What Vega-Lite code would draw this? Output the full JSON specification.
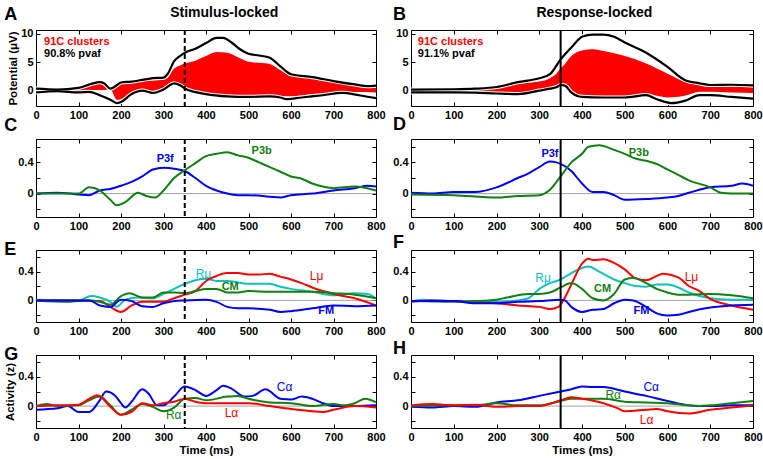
{
"$schema":"https://vega.github.io/schema/vega-lite/v6.json",
"background":"white",
"padding":{"left":3,"top":5,"right":5,"bottom":5},
"config":{
 "font":"Liberation Sans",
 "view":{"stroke":"black","strokeWidth":1},
 "axis":{"domain":false,"grid":false,"tickColor":"black","tickSize":-4,"tickWidth":1,"labelPadding":7,"labelFont":"Liberation Sans","labelFontSize":11,"labelFontWeight":"bold","labelColor":"black","titleFont":"Liberation Sans","titleFontSize":11.5,"titleFontWeight":"bold","titleColor":"black","labelFlush":false,"labelOverlap":false,"titlePadding":2},
 "line":{"strokeWidth":2,"interpolate":"monotone"},
 "text":{"font":"Liberation Sans"}
},
"datasets":{
"fill":[
{"p":"A","t":0,"lo":-0.15,"hi":0.2},{"p":"A","t":50,"lo":0.0,"hi":0.1},{"p":"A","t":100,"lo":-0.15,"hi":0.35},{"p":"A","t":130,"lo":0.1,"hi":1.0},{"p":"A","t":150,"lo":0.1,"hi":1.35},{"p":"A","t":160,"lo":0.1,"hi":1.15},{"p":"A","t":175,"lo":0.2,"hi":0.25},{"p":"A","t":190,"lo":-1.6,"hi":0.8},{"p":"A","t":200,"lo":-1.5,"hi":1.3},{"p":"A","t":225,"lo":-0.4,"hi":1.4},{"p":"A","t":250,"lo":0.15,"hi":1.6},{"p":"A","t":275,"lo":-0.25,"hi":1.8},{"p":"A","t":300,"lo":0.35,"hi":1.95},{"p":"A","t":310,"lo":0.7,"hi":2.3},{"p":"A","t":325,"lo":1.45,"hi":3.9},{"p":"A","t":340,"lo":1.1,"hi":4.5},{"p":"A","t":350,"lo":0.6,"hi":4.8},{"p":"A","t":375,"lo":0.05,"hi":5.3},{"p":"A","t":400,"lo":-0.45,"hi":6.1},{"p":"A","t":425,"lo":-0.7,"hi":6.8},{"p":"A","t":450,"lo":-0.85,"hi":6.7},{"p":"A","t":475,"lo":-0.9,"hi":5.9},{"p":"A","t":500,"lo":-0.95,"hi":5.1},{"p":"A","t":550,"lo":-0.85,"hi":4.7},{"p":"A","t":575,"lo":-0.95,"hi":3.6},{"p":"A","t":600,"lo":-1.0,"hi":2.65},{"p":"A","t":650,"lo":-0.6,"hi":2.2},{"p":"A","t":700,"lo":-0.3,"hi":1.45},{"p":"A","t":750,"lo":-0.25,"hi":0.9},{"p":"A","t":800,"lo":-0.3,"hi":0.5},
{"p":"B","t":0,"lo":-0.15,"hi":0.1},{"p":"B","t":100,"lo":-0.15,"hi":0.15},{"p":"B","t":150,"lo":-0.2,"hi":0.25},{"p":"B","t":200,"lo":-0.35,"hi":0.55},{"p":"B","t":250,"lo":-0.4,"hi":1.2},{"p":"B","t":300,"lo":0.1,"hi":1.6},{"p":"B","t":325,"lo":0.45,"hi":2.2},{"p":"B","t":340,"lo":0.75,"hi":3.0},{"p":"B","t":350,"lo":1.15,"hi":3.9},{"p":"B","t":360,"lo":1.0,"hi":4.7},{"p":"B","t":375,"lo":-0.15,"hi":6.1},{"p":"B","t":400,"lo":-0.9,"hi":7.1},{"p":"B","t":425,"lo":-0.95,"hi":7.3},{"p":"B","t":450,"lo":-1.0,"hi":7.0},{"p":"B","t":475,"lo":-1.0,"hi":6.6},{"p":"B","t":500,"lo":-1.0,"hi":6.1},{"p":"B","t":550,"lo":-0.6,"hi":4.8},{"p":"B","t":600,"lo":-1.2,"hi":3.0},{"p":"B","t":640,"lo":-0.9,"hi":1.6},{"p":"B","t":675,"lo":-0.2,"hi":1.0},{"p":"B","t":700,"lo":-0.2,"hi":0.8},{"p":"B","t":750,"lo":-0.3,"hi":0.75},{"p":"B","t":800,"lo":-0.4,"hi":0.6}
],
"env":[
{"p":"A","s":"top","t":0,"v":0.35},{"p":"A","s":"top","t":50,"v":0.2},{"p":"A","s":"top","t":100,"v":0.5},{"p":"A","s":"top","t":130,"v":1.2},{"p":"A","s":"top","t":150,"v":1.5},{"p":"A","s":"top","t":160,"v":1.3},{"p":"A","s":"top","t":175,"v":0.35},{"p":"A","s":"top","t":190,"v":0.95},{"p":"A","s":"top","t":200,"v":1.45},{"p":"A","s":"top","t":225,"v":1.6},{"p":"A","s":"top","t":250,"v":1.9},{"p":"A","s":"top","t":275,"v":2.2},{"p":"A","s":"top","t":300,"v":2.3},{"p":"A","s":"top","t":310,"v":3.0},{"p":"A","s":"top","t":325,"v":5.2},{"p":"A","s":"top","t":340,"v":6.2},{"p":"A","s":"top","t":350,"v":6.7},{"p":"A","s":"top","t":375,"v":7.4},{"p":"A","s":"top","t":400,"v":8.4},{"p":"A","s":"top","t":425,"v":9.3},{"p":"A","s":"top","t":440,"v":9.3},{"p":"A","s":"top","t":460,"v":8.5},{"p":"A","s":"top","t":480,"v":7.3},{"p":"A","s":"top","t":500,"v":6.5},{"p":"A","s":"top","t":525,"v":6.2},{"p":"A","s":"top","t":550,"v":5.8},{"p":"A","s":"top","t":575,"v":4.3},{"p":"A","s":"top","t":600,"v":2.9},{"p":"A","s":"top","t":650,"v":2.4},{"p":"A","s":"top","t":700,"v":1.7},{"p":"A","s":"top","t":750,"v":1.1},{"p":"A","s":"top","t":780,"v":0.8},{"p":"A","s":"top","t":800,"v":0.9},
{"p":"A","s":"bot","t":0,"v":-0.3},{"p":"A","s":"bot","t":50,"v":-0.1},{"p":"A","s":"bot","t":100,"v":-0.3},{"p":"A","s":"bot","t":125,"v":-0.2},{"p":"A","s":"bot","t":150,"v":-0.8},{"p":"A","s":"bot","t":175,"v":-1.6},{"p":"A","s":"bot","t":190,"v":-2.2},{"p":"A","s":"bot","t":200,"v":-2.0},{"p":"A","s":"bot","t":225,"v":-0.6},{"p":"A","s":"bot","t":250,"v":0.0},{"p":"A","s":"bot","t":275,"v":-0.4},{"p":"A","s":"bot","t":300,"v":0.2},{"p":"A","s":"bot","t":325,"v":1.3},{"p":"A","s":"bot","t":340,"v":0.9},{"p":"A","s":"bot","t":350,"v":0.4},{"p":"A","s":"bot","t":400,"v":-0.6},{"p":"A","s":"bot","t":450,"v":-1.0},{"p":"A","s":"bot","t":500,"v":-1.1},{"p":"A","s":"bot","t":550,"v":-1.0},{"p":"A","s":"bot","t":575,"v":-1.2},{"p":"A","s":"bot","t":590,"v":-1.5},{"p":"A","s":"bot","t":625,"v":-1.2},{"p":"A","s":"bot","t":675,"v":-0.8},{"p":"A","s":"bot","t":720,"v":-0.4},{"p":"A","s":"bot","t":760,"v":-0.8},{"p":"A","s":"bot","t":800,"v":-1.3},
{"p":"B","s":"top","t":0,"v":0.2},{"p":"B","s":"top","t":100,"v":0.25},{"p":"B","s":"top","t":150,"v":0.35},{"p":"B","s":"top","t":200,"v":0.65},{"p":"B","s":"top","t":250,"v":1.5},{"p":"B","s":"top","t":300,"v":2.2},{"p":"B","s":"top","t":325,"v":2.9},{"p":"B","s":"top","t":350,"v":5.5},{"p":"B","s":"top","t":375,"v":7.6},{"p":"B","s":"top","t":400,"v":9.5},{"p":"B","s":"top","t":425,"v":9.9},{"p":"B","s":"top","t":450,"v":9.9},{"p":"B","s":"top","t":475,"v":9.5},{"p":"B","s":"top","t":500,"v":8.5},{"p":"B","s":"top","t":550,"v":6.7},{"p":"B","s":"top","t":600,"v":4.2},{"p":"B","s":"top","t":640,"v":1.9},{"p":"B","s":"top","t":675,"v":1.3},{"p":"B","s":"top","t":700,"v":1.0},{"p":"B","s":"top","t":750,"v":1.05},{"p":"B","s":"top","t":800,"v":0.95},
{"p":"B","s":"bot","t":0,"v":-0.3},{"p":"B","s":"bot","t":100,"v":-0.3},{"p":"B","s":"bot","t":150,"v":-0.35},{"p":"B","s":"bot","t":200,"v":-0.5},{"p":"B","s":"bot","t":250,"v":-0.6},{"p":"B","s":"bot","t":300,"v":0.0},{"p":"B","s":"bot","t":325,"v":0.35},{"p":"B","s":"bot","t":340,"v":0.6},{"p":"B","s":"bot","t":350,"v":1.0},{"p":"B","s":"bot","t":360,"v":0.9},{"p":"B","s":"bot","t":375,"v":-0.3},{"p":"B","s":"bot","t":400,"v":-1.1},{"p":"B","s":"bot","t":450,"v":-1.2},{"p":"B","s":"bot","t":500,"v":-1.2},{"p":"B","s":"bot","t":550,"v":-0.8},{"p":"B","s":"bot","t":575,"v":-1.5},{"p":"B","s":"bot","t":610,"v":-2.2},{"p":"B","s":"bot","t":640,"v":-1.8},{"p":"B","s":"bot","t":675,"v":-0.8},{"p":"B","s":"bot","t":700,"v":-0.8},{"p":"B","s":"bot","t":750,"v":-1.1},{"p":"B","s":"bot","t":800,"v":-1.4}
],
"lines":[
{"p":"C","s":"P3f","t":0,"v":0},{"p":"C","s":"P3f","t":50,"v":0.01},{"p":"C","s":"P3f","t":100,"v":-0.01},{"p":"C","s":"P3f","t":125,"v":-0.02},{"p":"C","s":"P3f","t":150,"v":0.04},{"p":"C","s":"P3f","t":175,"v":0.06},{"p":"C","s":"P3f","t":200,"v":0.1},{"p":"C","s":"P3f","t":225,"v":0.15},{"p":"C","s":"P3f","t":250,"v":0.22},{"p":"C","s":"P3f","t":275,"v":0.31},{"p":"C","s":"P3f","t":300,"v":0.33},{"p":"C","s":"P3f","t":325,"v":0.32},{"p":"C","s":"P3f","t":350,"v":0.29},{"p":"C","s":"P3f","t":375,"v":0.2},{"p":"C","s":"P3f","t":400,"v":0.1},{"p":"C","s":"P3f","t":425,"v":0.04},{"p":"C","s":"P3f","t":450,"v":0},{"p":"C","s":"P3f","t":475,"v":-0.02},{"p":"C","s":"P3f","t":500,"v":-0.02},{"p":"C","s":"P3f","t":550,"v":-0.04},{"p":"C","s":"P3f","t":575,"v":-0.05},{"p":"C","s":"P3f","t":600,"v":-0.02},{"p":"C","s":"P3f","t":650,"v":0},{"p":"C","s":"P3f","t":700,"v":0.04},{"p":"C","s":"P3f","t":750,"v":0.07},{"p":"C","s":"P3f","t":780,"v":0.1},{"p":"C","s":"P3f","t":800,"v":0.09},
{"p":"C","s":"P3b","t":0,"v":0},{"p":"C","s":"P3b","t":100,"v":0},{"p":"C","s":"P3b","t":125,"v":0.08},{"p":"C","s":"P3b","t":150,"v":0.04},{"p":"C","s":"P3b","t":175,"v":-0.08},{"p":"C","s":"P3b","t":190,"v":-0.15},{"p":"C","s":"P3b","t":210,"v":-0.11},{"p":"C","s":"P3b","t":240,"v":0.01},{"p":"C","s":"P3b","t":260,"v":-0.03},{"p":"C","s":"P3b","t":280,"v":-0.05},{"p":"C","s":"P3b","t":300,"v":0.04},{"p":"C","s":"P3b","t":325,"v":0.2},{"p":"C","s":"P3b","t":350,"v":0.3},{"p":"C","s":"P3b","t":375,"v":0.39},{"p":"C","s":"P3b","t":400,"v":0.48},{"p":"C","s":"P3b","t":425,"v":0.51},{"p":"C","s":"P3b","t":450,"v":0.53},{"p":"C","s":"P3b","t":475,"v":0.49},{"p":"C","s":"P3b","t":500,"v":0.46},{"p":"C","s":"P3b","t":525,"v":0.4},{"p":"C","s":"P3b","t":550,"v":0.34},{"p":"C","s":"P3b","t":575,"v":0.28},{"p":"C","s":"P3b","t":600,"v":0.22},{"p":"C","s":"P3b","t":625,"v":0.19},{"p":"C","s":"P3b","t":650,"v":0.13},{"p":"C","s":"P3b","t":675,"v":0.09},{"p":"C","s":"P3b","t":700,"v":0.07},{"p":"C","s":"P3b","t":750,"v":0.09},{"p":"C","s":"P3b","t":800,"v":0.04},
{"p":"D","s":"P3f","t":0,"v":0.01},{"p":"D","s":"P3f","t":50,"v":0},{"p":"D","s":"P3f","t":100,"v":0.02},{"p":"D","s":"P3f","t":150,"v":0.02},{"p":"D","s":"P3f","t":200,"v":0.08},{"p":"D","s":"P3f","t":250,"v":0.2},{"p":"D","s":"P3f","t":275,"v":0.26},{"p":"D","s":"P3f","t":300,"v":0.34},{"p":"D","s":"P3f","t":325,"v":0.41},{"p":"D","s":"P3f","t":340,"v":0.4},{"p":"D","s":"P3f","t":350,"v":0.38},{"p":"D","s":"P3f","t":375,"v":0.29},{"p":"D","s":"P3f","t":400,"v":0.13},{"p":"D","s":"P3f","t":425,"v":0.02},{"p":"D","s":"P3f","t":450,"v":0.02},{"p":"D","s":"P3f","t":475,"v":-0.02},{"p":"D","s":"P3f","t":500,"v":-0.08},{"p":"D","s":"P3f","t":550,"v":-0.07},{"p":"D","s":"P3f","t":600,"v":-0.05},{"p":"D","s":"P3f","t":625,"v":-0.03},{"p":"D","s":"P3f","t":650,"v":0.01},{"p":"D","s":"P3f","t":700,"v":0.08},{"p":"D","s":"P3f","t":750,"v":0.1},{"p":"D","s":"P3f","t":775,"v":0.13},{"p":"D","s":"P3f","t":800,"v":0.1},
{"p":"D","s":"P3b","t":0,"v":-0.01},{"p":"D","s":"P3b","t":100,"v":-0.02},{"p":"D","s":"P3b","t":200,"v":-0.05},{"p":"D","s":"P3b","t":250,"v":-0.03},{"p":"D","s":"P3b","t":300,"v":-0.02},{"p":"D","s":"P3b","t":325,"v":0.05},{"p":"D","s":"P3b","t":350,"v":0.22},{"p":"D","s":"P3b","t":375,"v":0.4},{"p":"D","s":"P3b","t":400,"v":0.51},{"p":"D","s":"P3b","t":415,"v":0.6},{"p":"D","s":"P3b","t":440,"v":0.62},{"p":"D","s":"P3b","t":475,"v":0.56},{"p":"D","s":"P3b","t":500,"v":0.51},{"p":"D","s":"P3b","t":525,"v":0.45},{"p":"D","s":"P3b","t":550,"v":0.42},{"p":"D","s":"P3b","t":575,"v":0.38},{"p":"D","s":"P3b","t":600,"v":0.31},{"p":"D","s":"P3b","t":625,"v":0.24},{"p":"D","s":"P3b","t":650,"v":0.17},{"p":"D","s":"P3b","t":700,"v":0.08},{"p":"D","s":"P3b","t":725,"v":0.01},{"p":"D","s":"P3b","t":750,"v":0},{"p":"D","s":"P3b","t":800,"v":0},
{"p":"E","s":"Rμ","t":0,"v":0.01},{"p":"E","s":"Rμ","t":100,"v":0},{"p":"E","s":"Rμ","t":130,"v":0.06},{"p":"E","s":"Rμ","t":150,"v":0.04},{"p":"E","s":"Rμ","t":175,"v":-0.02},{"p":"E","s":"Rμ","t":190,"v":-0.09},{"p":"E","s":"Rμ","t":210,"v":0.01},{"p":"E","s":"Rμ","t":240,"v":0.04},{"p":"E","s":"Rμ","t":275,"v":0.03},{"p":"E","s":"Rμ","t":300,"v":0.09},{"p":"E","s":"Rμ","t":325,"v":0.16},{"p":"E","s":"Rμ","t":350,"v":0.23},{"p":"E","s":"Rμ","t":375,"v":0.28},{"p":"E","s":"Rμ","t":400,"v":0.3},{"p":"E","s":"Rμ","t":425,"v":0.27},{"p":"E","s":"Rμ","t":450,"v":0.27},{"p":"E","s":"Rμ","t":475,"v":0.25},{"p":"E","s":"Rμ","t":500,"v":0.23},{"p":"E","s":"Rμ","t":550,"v":0.23},{"p":"E","s":"Rμ","t":575,"v":0.19},{"p":"E","s":"Rμ","t":600,"v":0.16},{"p":"E","s":"Rμ","t":650,"v":0.12},{"p":"E","s":"Rμ","t":700,"v":0.07},{"p":"E","s":"Rμ","t":750,"v":0.1},{"p":"E","s":"Rμ","t":780,"v":0.09},{"p":"E","s":"Rμ","t":800,"v":0.03},
{"p":"E","s":"Lμ","t":0,"v":0},{"p":"E","s":"Lμ","t":100,"v":0},{"p":"E","s":"Lμ","t":150,"v":-0.01},{"p":"E","s":"Lμ","t":175,"v":-0.09},{"p":"E","s":"Lμ","t":200,"v":-0.16},{"p":"E","s":"Lμ","t":225,"v":-0.07},{"p":"E","s":"Lμ","t":250,"v":-0.02},{"p":"E","s":"Lμ","t":300,"v":-0.02},{"p":"E","s":"Lμ","t":325,"v":0.03},{"p":"E","s":"Lμ","t":350,"v":0.08},{"p":"E","s":"Lμ","t":375,"v":0.13},{"p":"E","s":"Lμ","t":400,"v":0.27},{"p":"E","s":"Lμ","t":425,"v":0.34},{"p":"E","s":"Lμ","t":450,"v":0.38},{"p":"E","s":"Lμ","t":475,"v":0.38},{"p":"E","s":"Lμ","t":500,"v":0.36},{"p":"E","s":"Lμ","t":525,"v":0.36},{"p":"E","s":"Lμ","t":550,"v":0.37},{"p":"E","s":"Lμ","t":575,"v":0.33},{"p":"E","s":"Lμ","t":600,"v":0.29},{"p":"E","s":"Lμ","t":625,"v":0.24},{"p":"E","s":"Lμ","t":650,"v":0.18},{"p":"E","s":"Lμ","t":675,"v":0.13},{"p":"E","s":"Lμ","t":700,"v":0.09},{"p":"E","s":"Lμ","t":750,"v":0.03},{"p":"E","s":"Lμ","t":800,"v":-0.07},
{"p":"E","s":"CM","t":0,"v":0},{"p":"E","s":"CM","t":75,"v":-0.02},{"p":"E","s":"CM","t":125,"v":0},{"p":"E","s":"CM","t":150,"v":-0.02},{"p":"E","s":"CM","t":175,"v":-0.06},{"p":"E","s":"CM","t":200,"v":0.06},{"p":"E","s":"CM","t":220,"v":0.1},{"p":"E","s":"CM","t":250,"v":0.04},{"p":"E","s":"CM","t":275,"v":0.04},{"p":"E","s":"CM","t":300,"v":0.11},{"p":"E","s":"CM","t":325,"v":0.11},{"p":"E","s":"CM","t":350,"v":0.1},{"p":"E","s":"CM","t":375,"v":0.13},{"p":"E","s":"CM","t":400,"v":0.16},{"p":"E","s":"CM","t":425,"v":0.16},{"p":"E","s":"CM","t":450,"v":0.11},{"p":"E","s":"CM","t":475,"v":0.11},{"p":"E","s":"CM","t":500,"v":0.13},{"p":"E","s":"CM","t":550,"v":0.12},{"p":"E","s":"CM","t":600,"v":0.12},{"p":"E","s":"CM","t":650,"v":0.12},{"p":"E","s":"CM","t":700,"v":0.1},{"p":"E","s":"CM","t":750,"v":0.08},{"p":"E","s":"CM","t":800,"v":0.03},
{"p":"E","s":"FM","t":0,"v":0},{"p":"E","s":"FM","t":125,"v":0},{"p":"E","s":"FM","t":150,"v":-0.07},{"p":"E","s":"FM","t":175,"v":-0.09},{"p":"E","s":"FM","t":200,"v":0.01},{"p":"E","s":"FM","t":225,"v":-0.01},{"p":"E","s":"FM","t":250,"v":-0.08},{"p":"E","s":"FM","t":275,"v":-0.09},{"p":"E","s":"FM","t":300,"v":-0.04},{"p":"E","s":"FM","t":325,"v":-0.01},{"p":"E","s":"FM","t":350,"v":0},{"p":"E","s":"FM","t":400,"v":0.01},{"p":"E","s":"FM","t":425,"v":-0.02},{"p":"E","s":"FM","t":450,"v":-0.09},{"p":"E","s":"FM","t":475,"v":-0.11},{"p":"E","s":"FM","t":500,"v":-0.11},{"p":"E","s":"FM","t":550,"v":-0.13},{"p":"E","s":"FM","t":575,"v":-0.16},{"p":"E","s":"FM","t":600,"v":-0.15},{"p":"E","s":"FM","t":650,"v":-0.11},{"p":"E","s":"FM","t":700,"v":-0.07},{"p":"E","s":"FM","t":750,"v":-0.08},{"p":"E","s":"FM","t":800,"v":-0.07},
{"p":"F","s":"Rμ","t":0,"v":-0.02},{"p":"F","s":"Rμ","t":25,"v":0.01},{"p":"F","s":"Rμ","t":100,"v":-0.01},{"p":"F","s":"Rμ","t":150,"v":-0.02},{"p":"F","s":"Rμ","t":200,"v":-0.02},{"p":"F","s":"Rμ","t":250,"v":0},{"p":"F","s":"Rμ","t":275,"v":0.03},{"p":"F","s":"Rμ","t":300,"v":0.16},{"p":"F","s":"Rμ","t":325,"v":0.24},{"p":"F","s":"Rμ","t":350,"v":0.29},{"p":"F","s":"Rμ","t":375,"v":0.38},{"p":"F","s":"Rμ","t":400,"v":0.45},{"p":"F","s":"Rμ","t":415,"v":0.47},{"p":"F","s":"Rμ","t":440,"v":0.4},{"p":"F","s":"Rμ","t":475,"v":0.29},{"p":"F","s":"Rμ","t":500,"v":0.24},{"p":"F","s":"Rμ","t":525,"v":0.2},{"p":"F","s":"Rμ","t":550,"v":0.19},{"p":"F","s":"Rμ","t":575,"v":0.22},{"p":"F","s":"Rμ","t":600,"v":0.22},{"p":"F","s":"Rμ","t":625,"v":0.18},{"p":"F","s":"Rμ","t":650,"v":0.11},{"p":"F","s":"Rμ","t":700,"v":0.03},{"p":"F","s":"Rμ","t":750,"v":0.01},{"p":"F","s":"Rμ","t":800,"v":0.01},
{"p":"F","s":"Lμ","t":0,"v":-0.02},{"p":"F","s":"Lμ","t":50,"v":0},{"p":"F","s":"Lμ","t":100,"v":-0.01},{"p":"F","s":"Lμ","t":150,"v":-0.03},{"p":"F","s":"Lμ","t":200,"v":-0.04},{"p":"F","s":"Lμ","t":250,"v":-0.07},{"p":"F","s":"Lμ","t":300,"v":-0.09},{"p":"F","s":"Lμ","t":325,"v":-0.12},{"p":"F","s":"Lμ","t":345,"v":-0.09},{"p":"F","s":"Lμ","t":360,"v":0.04},{"p":"F","s":"Lμ","t":375,"v":0.22},{"p":"F","s":"Lμ","t":400,"v":0.51},{"p":"F","s":"Lμ","t":415,"v":0.58},{"p":"F","s":"Lμ","t":425,"v":0.56},{"p":"F","s":"Lμ","t":450,"v":0.57},{"p":"F","s":"Lμ","t":475,"v":0.52},{"p":"F","s":"Lμ","t":500,"v":0.43},{"p":"F","s":"Lμ","t":525,"v":0.31},{"p":"F","s":"Lμ","t":550,"v":0.28},{"p":"F","s":"Lμ","t":575,"v":0.34},{"p":"F","s":"Lμ","t":590,"v":0.37},{"p":"F","s":"Lμ","t":625,"v":0.32},{"p":"F","s":"Lμ","t":650,"v":0.2},{"p":"F","s":"Lμ","t":675,"v":0.13},{"p":"F","s":"Lμ","t":700,"v":0.02},{"p":"F","s":"Lμ","t":750,"v":-0.07},{"p":"F","s":"Lμ","t":800,"v":-0.13},
{"p":"F","s":"CM","t":0,"v":-0.01},{"p":"F","s":"CM","t":100,"v":-0.02},{"p":"F","s":"CM","t":150,"v":-0.01},{"p":"F","s":"CM","t":200,"v":0.01},{"p":"F","s":"CM","t":225,"v":0.04},{"p":"F","s":"CM","t":275,"v":0.09},{"p":"F","s":"CM","t":300,"v":0.09},{"p":"F","s":"CM","t":325,"v":0.11},{"p":"F","s":"CM","t":350,"v":0.18},{"p":"F","s":"CM","t":375,"v":0.24},{"p":"F","s":"CM","t":400,"v":0.16},{"p":"F","s":"CM","t":425,"v":0.03},{"p":"F","s":"CM","t":450,"v":0},{"p":"F","s":"CM","t":475,"v":0.09},{"p":"F","s":"CM","t":500,"v":0.29},{"p":"F","s":"CM","t":520,"v":0.31},{"p":"F","s":"CM","t":550,"v":0.24},{"p":"F","s":"CM","t":575,"v":0.16},{"p":"F","s":"CM","t":600,"v":0.11},{"p":"F","s":"CM","t":625,"v":0.08},{"p":"F","s":"CM","t":650,"v":0.08},{"p":"F","s":"CM","t":700,"v":0.09},{"p":"F","s":"CM","t":750,"v":0.07},{"p":"F","s":"CM","t":800,"v":0.03},
{"p":"F","s":"FM","t":0,"v":-0.01},{"p":"F","s":"FM","t":100,"v":-0.01},{"p":"F","s":"FM","t":150,"v":-0.04},{"p":"F","s":"FM","t":200,"v":-0.04},{"p":"F","s":"FM","t":250,"v":-0.02},{"p":"F","s":"FM","t":300,"v":-0.01},{"p":"F","s":"FM","t":350,"v":0.01},{"p":"F","s":"FM","t":360,"v":0},{"p":"F","s":"FM","t":375,"v":-0.09},{"p":"F","s":"FM","t":400,"v":-0.16},{"p":"F","s":"FM","t":425,"v":-0.13},{"p":"F","s":"FM","t":450,"v":-0.12},{"p":"F","s":"FM","t":475,"v":-0.04},{"p":"F","s":"FM","t":500,"v":0.01},{"p":"F","s":"FM","t":520,"v":0},{"p":"F","s":"FM","t":550,"v":-0.09},{"p":"F","s":"FM","t":575,"v":-0.18},{"p":"F","s":"FM","t":600,"v":-0.21},{"p":"F","s":"FM","t":625,"v":-0.2},{"p":"F","s":"FM","t":650,"v":-0.16},{"p":"F","s":"FM","t":700,"v":-0.1},{"p":"F","s":"FM","t":750,"v":-0.07},{"p":"F","s":"FM","t":800,"v":-0.06},
{"p":"G","s":"Cα","t":0,"v":-0.05},{"p":"G","s":"Cα","t":50,"v":-0.03},{"p":"G","s":"Cα","t":75,"v":0},{"p":"G","s":"Cα","t":100,"v":-0.08},{"p":"G","s":"Cα","t":125,"v":-0.08},{"p":"G","s":"Cα","t":150,"v":0.08},{"p":"G","s":"Cα","t":165,"v":0.2},{"p":"G","s":"Cα","t":185,"v":0.15},{"p":"G","s":"Cα","t":200,"v":0.04},{"p":"G","s":"Cα","t":210,"v":-0.02},{"p":"G","s":"Cα","t":225,"v":0.06},{"p":"G","s":"Cα","t":250,"v":0.23},{"p":"G","s":"Cα","t":265,"v":0.17},{"p":"G","s":"Cα","t":285,"v":0.01},{"p":"G","s":"Cα","t":300,"v":0.01},{"p":"G","s":"Cα","t":325,"v":0.13},{"p":"G","s":"Cα","t":350,"v":0.27},{"p":"G","s":"Cα","t":375,"v":0.22},{"p":"G","s":"Cα","t":400,"v":0.14},{"p":"G","s":"Cα","t":425,"v":0.22},{"p":"G","s":"Cα","t":440,"v":0.28},{"p":"G","s":"Cα","t":460,"v":0.24},{"p":"G","s":"Cα","t":490,"v":0.13},{"p":"G","s":"Cα","t":510,"v":0.14},{"p":"G","s":"Cα","t":540,"v":0.23},{"p":"G","s":"Cα","t":575,"v":0.1},{"p":"G","s":"Cα","t":600,"v":0.09},{"p":"G","s":"Cα","t":625,"v":0.13},{"p":"G","s":"Cα","t":650,"v":0.1},{"p":"G","s":"Cα","t":675,"v":0.04},{"p":"G","s":"Cα","t":700,"v":0},{"p":"G","s":"Cα","t":750,"v":0},{"p":"G","s":"Cα","t":800,"v":0.01},
{"p":"G","s":"Rα","t":0,"v":0},{"p":"G","s":"Rα","t":25,"v":0.03},{"p":"G","s":"Rα","t":50,"v":0},{"p":"G","s":"Rα","t":100,"v":0.01},{"p":"G","s":"Rα","t":125,"v":0.08},{"p":"G","s":"Rα","t":150,"v":0.13},{"p":"G","s":"Rα","t":175,"v":0.01},{"p":"G","s":"Rα","t":200,"v":-0.12},{"p":"G","s":"Rα","t":225,"v":-0.05},{"p":"G","s":"Rα","t":250,"v":0.03},{"p":"G","s":"Rα","t":275,"v":-0.01},{"p":"G","s":"Rα","t":300,"v":-0.07},{"p":"G","s":"Rα","t":325,"v":-0.02},{"p":"G","s":"Rα","t":350,"v":0.1},{"p":"G","s":"Rα","t":375,"v":0.11},{"p":"G","s":"Rα","t":400,"v":0.08},{"p":"G","s":"Rα","t":450,"v":0.13},{"p":"G","s":"Rα","t":475,"v":0.14},{"p":"G","s":"Rα","t":500,"v":0.1},{"p":"G","s":"Rα","t":550,"v":0.05},{"p":"G","s":"Rα","t":600,"v":0.04},{"p":"G","s":"Rα","t":650,"v":0},{"p":"G","s":"Rα","t":700,"v":0.03},{"p":"G","s":"Rα","t":725,"v":0.01},{"p":"G","s":"Rα","t":750,"v":0.04},{"p":"G","s":"Rα","t":775,"v":0.1},{"p":"G","s":"Rα","t":800,"v":0.05},
{"p":"G","s":"Lα","t":0,"v":0},{"p":"G","s":"Lα","t":50,"v":0.01},{"p":"G","s":"Lα","t":100,"v":0.02},{"p":"G","s":"Lα","t":125,"v":0.1},{"p":"G","s":"Lα","t":145,"v":0.15},{"p":"G","s":"Lα","t":175,"v":-0.01},{"p":"G","s":"Lα","t":200,"v":-0.12},{"p":"G","s":"Lα","t":225,"v":-0.08},{"p":"G","s":"Lα","t":250,"v":0.04},{"p":"G","s":"Lα","t":275,"v":0.01},{"p":"G","s":"Lα","t":300,"v":0.04},{"p":"G","s":"Lα","t":325,"v":0.06},{"p":"G","s":"Lα","t":350,"v":0.1},{"p":"G","s":"Lα","t":375,"v":0.06},{"p":"G","s":"Lα","t":400,"v":0.04},{"p":"G","s":"Lα","t":450,"v":0.04},{"p":"G","s":"Lα","t":500,"v":0.04},{"p":"G","s":"Lα","t":550,"v":0},{"p":"G","s":"Lα","t":600,"v":-0.04},{"p":"G","s":"Lα","t":650,"v":-0.07},{"p":"G","s":"Lα","t":675,"v":-0.08},{"p":"G","s":"Lα","t":700,"v":-0.05},{"p":"G","s":"Lα","t":750,"v":0},{"p":"G","s":"Lα","t":800,"v":-0.02},
{"p":"H","s":"Cα","t":0,"v":-0.01},{"p":"H","s":"Cα","t":50,"v":-0.02},{"p":"H","s":"Cα","t":100,"v":0},{"p":"H","s":"Cα","t":150,"v":-0.01},{"p":"H","s":"Cα","t":200,"v":0.05},{"p":"H","s":"Cα","t":250,"v":0.08},{"p":"H","s":"Cα","t":300,"v":0.14},{"p":"H","s":"Cα","t":350,"v":0.2},{"p":"H","s":"Cα","t":375,"v":0.23},{"p":"H","s":"Cα","t":400,"v":0.27},{"p":"H","s":"Cα","t":425,"v":0.26},{"p":"H","s":"Cα","t":450,"v":0.26},{"p":"H","s":"Cα","t":500,"v":0.2},{"p":"H","s":"Cα","t":550,"v":0.14},{"p":"H","s":"Cα","t":600,"v":0.07},{"p":"H","s":"Cα","t":650,"v":0.01},{"p":"H","s":"Cα","t":675,"v":0},{"p":"H","s":"Cα","t":700,"v":0},{"p":"H","s":"Cα","t":750,"v":0.01},{"p":"H","s":"Cα","t":800,"v":0.01},
{"p":"H","s":"Rα","t":0,"v":0},{"p":"H","s":"Rα","t":100,"v":0.01},{"p":"H","s":"Rα","t":150,"v":0.01},{"p":"H","s":"Rα","t":200,"v":0.04},{"p":"H","s":"Rα","t":250,"v":0.01},{"p":"H","s":"Rα","t":300,"v":0.01},{"p":"H","s":"Rα","t":350,"v":0.07},{"p":"H","s":"Rα","t":375,"v":0.1},{"p":"H","s":"Rα","t":400,"v":0.1},{"p":"H","s":"Rα","t":450,"v":0.1},{"p":"H","s":"Rα","t":500,"v":0.06},{"p":"H","s":"Rα","t":550,"v":0.05},{"p":"H","s":"Rα","t":600,"v":0.04},{"p":"H","s":"Rα","t":650,"v":0.01},{"p":"H","s":"Rα","t":675,"v":0},{"p":"H","s":"Rα","t":700,"v":0.01},{"p":"H","s":"Rα","t":750,"v":0.04},{"p":"H","s":"Rα","t":800,"v":0.07},
{"p":"H","s":"Lα","t":0,"v":0.01},{"p":"H","s":"Lα","t":50,"v":0.03},{"p":"H","s":"Lα","t":100,"v":0.01},{"p":"H","s":"Lα","t":150,"v":0.02},{"p":"H","s":"Lα","t":200,"v":-0.01},{"p":"H","s":"Lα","t":250,"v":0},{"p":"H","s":"Lα","t":300,"v":0},{"p":"H","s":"Lα","t":350,"v":0.08},{"p":"H","s":"Lα","t":375,"v":0.12},{"p":"H","s":"Lα","t":400,"v":0.1},{"p":"H","s":"Lα","t":450,"v":0.04},{"p":"H","s":"Lα","t":480,"v":-0.02},{"p":"H","s":"Lα","t":500,"v":-0.07},{"p":"H","s":"Lα","t":550,"v":-0.05},{"p":"H","s":"Lα","t":575,"v":-0.04},{"p":"H","s":"Lα","t":600,"v":-0.07},{"p":"H","s":"Lα","t":650,"v":-0.1},{"p":"H","s":"Lα","t":700,"v":-0.05},{"p":"H","s":"Lα","t":750,"v":-0.02},{"p":"H","s":"Lα","t":800,"v":0.01}
],
"labels":[
{"p":"A","s":"clusters","t":19,"v":8.55,"txt":"91C clusters"},{"p":"A","s":"pvaf","t":19,"v":6.5,"txt":"90.8% pvaf"},
{"p":"B","s":"clusters","t":16,"v":8.55,"txt":"91C clusters"},{"p":"B","s":"pvaf","t":16,"v":6.5,"txt":"91.1% pvaf"},
{"p":"C","s":"P3f","t":304,"v":0.45,"txt":"P3f"},{"p":"C","s":"P3b","t":531,"v":0.55,"txt":"P3b"},
{"p":"D","s":"P3f","t":325,"v":0.51,"txt":"P3f"},{"p":"D","s":"P3b","t":533,"v":0.52,"txt":"P3b"},
{"p":"E","s":"Rμ","t":394,"v":0.37,"txt":"Rμ"},{"p":"E","s":"Lμ","t":660,"v":0.34,"txt":"Lμ"},{"p":"E","s":"CM","t":457,"v":0.19,"txt":"CM"},{"p":"E","s":"FM","t":683,"v":-0.15,"txt":"FM"},
{"p":"F","s":"Rμ","t":309,"v":0.31,"txt":"Rμ"},{"p":"F","s":"Lμ","t":656,"v":0.32,"txt":"Lμ"},{"p":"F","s":"CM","t":448,"v":0.16,"txt":"CM"},{"p":"F","s":"FM","t":539,"v":-0.15,"txt":"FM"},
{"p":"G","s":"Cα","t":585,"v":0.26,"txt":"Cα"},{"p":"G","s":"Rα","t":324,"v":-0.12,"txt":"Rα"},{"p":"G","s":"Lα","t":460,"v":-0.09,"txt":"Lα"},
{"p":"H","s":"Cα","t":562,"v":0.26,"txt":"Cα"},{"p":"H","s":"Rα","t":473,"v":0.15,"txt":"Rα"},{"p":"H","s":"Lα","t":551,"v":-0.19,"txt":"Lα"}
]
},
"columns":2,
"spacing":{"row":33,"column":35},
"bounds":"flush",
"concat":[
 {"width":340,"height":76,"resolve":{"axis":{"x":"independent","y":"independent"}},"layer":[
  {"data":{"name":"fill"},"transform":[{"filter":"datum.p==='A'"}],"mark":{"type":"area","color":"#ff0000","interpolate":"monotone"},"encoding":{"x":{"field":"t","type":"quantitative","scale":{"domain":[0,800],"nice":false,"zero":false},"axis":{"values":[0,100,200,300,400,500,600,700,800],"title":null,"labelOverlap":false}},"y":{"field":"hi","type":"quantitative","scale":{"domain":[-2.7,10.7],"nice":false,"zero":false},"axis":{"values":[0,5,10],"title":"Potential (μV)","labelOverlap":false}},"y2":{"field":"lo"}}},
  {"data":{"name":"env"},"transform":[{"filter":"datum.p==='A'"}],"mark":{"type":"line","color":"white","strokeWidth":4.2,"interpolate":"monotone"},"encoding":{"x":{"field":"t","type":"quantitative","scale":{"domain":[0,800],"nice":false,"zero":false},"axis":null},"y":{"field":"v","type":"quantitative","scale":{"domain":[-2.7,10.7],"nice":false,"zero":false},"axis":null},"detail":{"field":"s"}}},
  {"data":{"name":"env"},"transform":[{"filter":"datum.p==='A'"}],"mark":{"type":"line","color":"black","strokeWidth":2.2,"interpolate":"monotone"},"encoding":{"x":{"field":"t","type":"quantitative","scale":{"domain":[0,800],"nice":false,"zero":false},"axis":null},"y":{"field":"v","type":"quantitative","scale":{"domain":[-2.7,10.7],"nice":false,"zero":false},"axis":null},"detail":{"field":"s"}}},
  {"data":{"values":[{}]},"mark":{"type":"rule","color":"black","strokeWidth":2,"strokeDash":[5,3]},"encoding":{"x":{"datum":350,"type":"quantitative","scale":{"domain":[0,800],"nice":false,"zero":false},"axis":null}}},
  {"data":{"name":"labels"},"transform":[{"filter":"datum.p==='A'"}],"mark":{"type":"text","align":"left","baseline":"middle","fontSize":11,"fontWeight":"bold"},"encoding":{"x":{"field":"t","type":"quantitative","scale":{"domain":[0,800],"nice":false,"zero":false},"axis":null},"y":{"field":"v","type":"quantitative","scale":{"domain":[-2.7,10.7],"nice":false,"zero":false},"axis":null},"text":{"field":"txt"},"color":{"field":"s","type":"nominal","legend":null,"scale":{"domain":["P3f","P3b","Rμ","Lμ","CM","FM","Cα","Rα","Lα","clusters","pvaf"],"range":["#0000ff","#108010","#10bfbf","#ff0000","#108010","#0000ff","#0000ff","#108010","#ff0000","#ff0000","#000000"]}}}},
  {"data":{"values":[{}]},"mark":{"type":"text","text":"A","align":"left","baseline":"alphabetic","fontSize":18,"fontWeight":"bold","color":"black"},"encoding":{"x":{"datum":-75,"type":"quantitative","scale":{"domain":[0,800],"nice":false,"zero":false},"axis":{"orient":"top","values":[0,100,200,300,400,500,600,700,800],"labels":false,"title":null}},"y":{"datum":12.46,"type":"quantitative","scale":{"domain":[-2.7,10.7],"nice":false,"zero":false},"axis":{"orient":"right","values":[0,5,10],"labels":false,"title":null}}}},
  {"data":{"values":[{}]},"mark":{"type":"text","text":"Stimulus-locked","align":"center","baseline":"alphabetic","fontSize":14,"fontWeight":"bold","color":"black"},"encoding":{"x":{"datum":443,"type":"quantitative","scale":{"domain":[0,800],"nice":false,"zero":false},"axis":null},"y":{"datum":12.94,"type":"quantitative","scale":{"domain":[-2.7,10.7],"nice":false,"zero":false},"axis":null}}}
 ]},
 {"width":342,"height":76,"resolve":{"axis":{"x":"independent","y":"independent"}},"layer":[
  {"data":{"name":"fill"},"transform":[{"filter":"datum.p==='B'"}],"mark":{"type":"area","color":"#ff0000","interpolate":"monotone"},"encoding":{"x":{"field":"t","type":"quantitative","scale":{"domain":[0,800],"nice":false,"zero":false},"axis":{"values":[0,100,200,300,400,500,600,700,800],"title":null,"labelOverlap":false}},"y":{"field":"hi","type":"quantitative","scale":{"domain":[-2.7,10.7],"nice":false,"zero":false},"axis":{"values":[0,5,10],"title":null,"labelOverlap":false}},"y2":{"field":"lo"}}},
  {"data":{"name":"env"},"transform":[{"filter":"datum.p==='B'"}],"mark":{"type":"line","color":"white","strokeWidth":4.2,"interpolate":"monotone"},"encoding":{"x":{"field":"t","type":"quantitative","scale":{"domain":[0,800],"nice":false,"zero":false},"axis":null},"y":{"field":"v","type":"quantitative","scale":{"domain":[-2.7,10.7],"nice":false,"zero":false},"axis":null},"detail":{"field":"s"}}},
  {"data":{"name":"env"},"transform":[{"filter":"datum.p==='B'"}],"mark":{"type":"line","color":"black","strokeWidth":2.2,"interpolate":"monotone"},"encoding":{"x":{"field":"t","type":"quantitative","scale":{"domain":[0,800],"nice":false,"zero":false},"axis":null},"y":{"field":"v","type":"quantitative","scale":{"domain":[-2.7,10.7],"nice":false,"zero":false},"axis":null},"detail":{"field":"s"}}},
  {"data":{"values":[{}]},"mark":{"type":"rule","color":"black","strokeWidth":2},"encoding":{"x":{"datum":350,"type":"quantitative","scale":{"domain":[0,800],"nice":false,"zero":false},"axis":null}}},
  {"data":{"name":"labels"},"transform":[{"filter":"datum.p==='B'"}],"mark":{"type":"text","align":"left","baseline":"middle","fontSize":11,"fontWeight":"bold"},"encoding":{"x":{"field":"t","type":"quantitative","scale":{"domain":[0,800],"nice":false,"zero":false},"axis":null},"y":{"field":"v","type":"quantitative","scale":{"domain":[-2.7,10.7],"nice":false,"zero":false},"axis":null},"text":{"field":"txt"},"color":{"field":"s","type":"nominal","legend":null}}},
  {"data":{"values":[{}]},"mark":{"type":"text","text":"B","align":"left","baseline":"alphabetic","fontSize":18,"fontWeight":"bold","color":"black"},"encoding":{"x":{"datum":-42,"type":"quantitative","scale":{"domain":[0,800],"nice":false,"zero":false},"axis":{"orient":"top","values":[0,100,200,300,400,500,600,700,800],"labels":false,"title":null}},"y":{"datum":12.46,"type":"quantitative","scale":{"domain":[-2.7,10.7],"nice":false,"zero":false},"axis":{"orient":"right","values":[0,5,10],"labels":false,"title":null}}}},
  {"data":{"values":[{}]},"mark":{"type":"text","text":"Response-locked","align":"center","baseline":"alphabetic","fontSize":14,"fontWeight":"bold","color":"black"},"encoding":{"x":{"datum":429,"type":"quantitative","scale":{"domain":[0,800],"nice":false,"zero":false},"axis":null},"y":{"datum":12.94,"type":"quantitative","scale":{"domain":[-2.7,10.7],"nice":false,"zero":false},"axis":null}}}
 ]},
 {"width":340,"height":78,"resolve":{"axis":{"x":"independent","y":"independent"}},"layer":[
  {"data":{"values":[{}]},"mark":{"type":"rule","color":"#8c8c8c","strokeWidth":0.8},"encoding":{"y":{"datum":0,"type":"quantitative","scale":{"domain":[-0.3,0.7],"nice":false,"zero":false},"axis":{"values":[-0.2,0,0.2,0.4,0.6],"labelExpr":"datum.value===0?'0':(abs(datum.value-0.4)<0.001?'0.4':'')","title":null,"labelOverlap":false}}}},
  {"data":{"name":"lines"},"transform":[{"filter":"datum.p==='C'"}],"mark":{"type":"line","strokeWidth":2,"interpolate":"monotone"},"encoding":{"x":{"field":"t","type":"quantitative","scale":{"domain":[0,800],"nice":false,"zero":false},"axis":{"values":[0,100,200,300,400,500,600,700,800],"title":null,"labelOverlap":false}},"y":{"field":"v","type":"quantitative","scale":{"domain":[-0.3,0.7],"nice":false,"zero":false},"axis":null},"color":{"field":"s","type":"nominal","legend":null}}},
  {"data":{"values":[{}]},"mark":{"type":"rule","color":"black","strokeWidth":2,"strokeDash":[5,3]},"encoding":{"x":{"datum":350,"type":"quantitative","scale":{"domain":[0,800],"nice":false,"zero":false},"axis":null}}},
  {"data":{"name":"labels"},"transform":[{"filter":"datum.p==='C'"}],"mark":{"type":"text","align":"center","baseline":"middle","fontSize":11,"fontWeight":"bold"},"encoding":{"x":{"field":"t","type":"quantitative","scale":{"domain":[0,800],"nice":false,"zero":false},"axis":null},"y":{"field":"v","type":"quantitative","scale":{"domain":[-0.3,0.7],"nice":false,"zero":false},"axis":null},"text":{"field":"txt"},"color":{"field":"s","type":"nominal","legend":null}}},
  {"data":{"values":[{}]},"mark":{"type":"text","text":"C","align":"left","baseline":"alphabetic","fontSize":18,"fontWeight":"bold","color":"black"},"encoding":{"x":{"datum":-75,"type":"quantitative","scale":{"domain":[0,800],"nice":false,"zero":false},"axis":{"orient":"top","values":[0,100,200,300,400,500,600,700,800],"labels":false,"title":null}},"y":{"datum":0.806,"type":"quantitative","scale":{"domain":[-0.3,0.7],"nice":false,"zero":false},"axis":{"orient":"right","values":[-0.2,0,0.2,0.4,0.6],"labels":false,"title":null}}}}
 ]},
 {"width":342,"height":78,"resolve":{"axis":{"x":"independent","y":"independent"}},"layer":[
  {"data":{"values":[{}]},"mark":{"type":"rule","color":"#8c8c8c","strokeWidth":0.8},"encoding":{"y":{"datum":0,"type":"quantitative","scale":{"domain":[-0.3,0.7],"nice":false,"zero":false},"axis":{"values":[-0.2,0,0.2,0.4,0.6],"labelExpr":"datum.value===0?'0':(abs(datum.value-0.4)<0.001?'0.4':'')","title":null,"labelOverlap":false}}}},
  {"data":{"name":"lines"},"transform":[{"filter":"datum.p==='D'"}],"mark":{"type":"line","strokeWidth":2,"interpolate":"monotone"},"encoding":{"x":{"field":"t","type":"quantitative","scale":{"domain":[0,800],"nice":false,"zero":false},"axis":{"values":[0,100,200,300,400,500,600,700,800],"title":null,"labelOverlap":false}},"y":{"field":"v","type":"quantitative","scale":{"domain":[-0.3,0.7],"nice":false,"zero":false},"axis":null},"color":{"field":"s","type":"nominal","legend":null}}},
  {"data":{"values":[{}]},"mark":{"type":"rule","color":"black","strokeWidth":2},"encoding":{"x":{"datum":350,"type":"quantitative","scale":{"domain":[0,800],"nice":false,"zero":false},"axis":null}}},
  {"data":{"name":"labels"},"transform":[{"filter":"datum.p==='D'"}],"mark":{"type":"text","align":"center","baseline":"middle","fontSize":11,"fontWeight":"bold"},"encoding":{"x":{"field":"t","type":"quantitative","scale":{"domain":[0,800],"nice":false,"zero":false},"axis":null},"y":{"field":"v","type":"quantitative","scale":{"domain":[-0.3,0.7],"nice":false,"zero":false},"axis":null},"text":{"field":"txt"},"color":{"field":"s","type":"nominal","legend":null}}},
  {"data":{"values":[{}]},"mark":{"type":"text","text":"D","align":"left","baseline":"alphabetic","fontSize":18,"fontWeight":"bold","color":"black"},"encoding":{"x":{"datum":-42,"type":"quantitative","scale":{"domain":[0,800],"nice":false,"zero":false},"axis":{"orient":"top","values":[0,100,200,300,400,500,600,700,800],"labels":false,"title":null}},"y":{"datum":0.82,"type":"quantitative","scale":{"domain":[-0.3,0.7],"nice":false,"zero":false},"axis":{"orient":"right","values":[-0.2,0,0.2,0.4,0.6],"labels":false,"title":null}}}}
 ]},
 {"width":340,"height":72,"resolve":{"axis":{"x":"independent","y":"independent"}},"layer":[
  {"data":{"values":[{}]},"mark":{"type":"rule","color":"#8c8c8c","strokeWidth":0.8},"encoding":{"y":{"datum":0,"type":"quantitative","scale":{"domain":[-0.3,0.7],"nice":false,"zero":false},"axis":{"values":[-0.2,0,0.2,0.4,0.6],"labelExpr":"datum.value===0?'0':(abs(datum.value-0.4)<0.001?'0.4':'')","title":null,"labelOverlap":false}}}},
  {"data":{"name":"lines"},"transform":[{"filter":"datum.p==='E'"}],"mark":{"type":"line","strokeWidth":2,"interpolate":"monotone"},"encoding":{"x":{"field":"t","type":"quantitative","scale":{"domain":[0,800],"nice":false,"zero":false},"axis":{"values":[0,100,200,300,400,500,600,700,800],"title":null,"labelOverlap":false}},"y":{"field":"v","type":"quantitative","scale":{"domain":[-0.3,0.7],"nice":false,"zero":false},"axis":null},"color":{"field":"s","type":"nominal","legend":null}}},
  {"data":{"values":[{}]},"mark":{"type":"rule","color":"black","strokeWidth":2,"strokeDash":[5,3]},"encoding":{"x":{"datum":350,"type":"quantitative","scale":{"domain":[0,800],"nice":false,"zero":false},"axis":null}}},
  {"data":{"name":"labels"},"transform":[{"filter":"datum.p==='E' && (datum.s==='CM' || datum.s==='FM')"}],"mark":{"type":"text","align":"center","baseline":"middle","fontSize":11,"fontWeight":"bold"},"encoding":{"x":{"field":"t","type":"quantitative","scale":{"domain":[0,800],"nice":false,"zero":false},"axis":null},"y":{"field":"v","type":"quantitative","scale":{"domain":[-0.3,0.7],"nice":false,"zero":false},"axis":null},"text":{"field":"txt"},"color":{"field":"s","type":"nominal","legend":null}}},
  {"data":{"name":"labels"},"transform":[{"filter":"datum.p==='E' && datum.s!=='CM' && datum.s!=='FM'"}],"mark":{"type":"text","align":"center","baseline":"middle","fontSize":12,"fontWeight":"normal"},"encoding":{"x":{"field":"t","type":"quantitative","scale":{"domain":[0,800],"nice":false,"zero":false},"axis":null},"y":{"field":"v","type":"quantitative","scale":{"domain":[-0.3,0.7],"nice":false,"zero":false},"axis":null},"text":{"field":"txt"},"color":{"field":"s","type":"nominal","legend":null}}},
  {"data":{"values":[{}]},"mark":{"type":"text","text":"E","align":"left","baseline":"alphabetic","fontSize":18,"fontWeight":"bold","color":"black"},"encoding":{"x":{"datum":-75,"type":"quantitative","scale":{"domain":[0,800],"nice":false,"zero":false},"axis":{"orient":"top","values":[0,100,200,300,400,500,600,700,800],"labels":false,"title":null}},"y":{"datum":0.636,"type":"quantitative","scale":{"domain":[-0.3,0.7],"nice":false,"zero":false},"axis":{"orient":"right","values":[-0.2,0,0.2,0.4,0.6],"labels":false,"title":null}}}}
 ]},
 {"width":342,"height":72,"resolve":{"axis":{"x":"independent","y":"independent"}},"layer":[
  {"data":{"values":[{}]},"mark":{"type":"rule","color":"#8c8c8c","strokeWidth":0.8},"encoding":{"y":{"datum":0,"type":"quantitative","scale":{"domain":[-0.3,0.7],"nice":false,"zero":false},"axis":{"values":[-0.2,0,0.2,0.4,0.6],"labelExpr":"datum.value===0?'0':(abs(datum.value-0.4)<0.001?'0.4':'')","title":null,"labelOverlap":false}}}},
  {"data":{"name":"lines"},"transform":[{"filter":"datum.p==='F'"}],"mark":{"type":"line","strokeWidth":2,"interpolate":"monotone"},"encoding":{"x":{"field":"t","type":"quantitative","scale":{"domain":[0,800],"nice":false,"zero":false},"axis":{"values":[0,100,200,300,400,500,600,700,800],"title":null,"labelOverlap":false}},"y":{"field":"v","type":"quantitative","scale":{"domain":[-0.3,0.7],"nice":false,"zero":false},"axis":null},"color":{"field":"s","type":"nominal","legend":null}}},
  {"data":{"values":[{}]},"mark":{"type":"rule","color":"black","strokeWidth":2},"encoding":{"x":{"datum":350,"type":"quantitative","scale":{"domain":[0,800],"nice":false,"zero":false},"axis":null}}},
  {"data":{"name":"labels"},"transform":[{"filter":"datum.p==='F' && (datum.s==='CM' || datum.s==='FM')"}],"mark":{"type":"text","align":"center","baseline":"middle","fontSize":11,"fontWeight":"bold"},"encoding":{"x":{"field":"t","type":"quantitative","scale":{"domain":[0,800],"nice":false,"zero":false},"axis":null},"y":{"field":"v","type":"quantitative","scale":{"domain":[-0.3,0.7],"nice":false,"zero":false},"axis":null},"text":{"field":"txt"},"color":{"field":"s","type":"nominal","legend":null}}},
  {"data":{"name":"labels"},"transform":[{"filter":"datum.p==='F' && datum.s!=='CM' && datum.s!=='FM'"}],"mark":{"type":"text","align":"center","baseline":"middle","fontSize":12,"fontWeight":"normal"},"encoding":{"x":{"field":"t","type":"quantitative","scale":{"domain":[0,800],"nice":false,"zero":false},"axis":null},"y":{"field":"v","type":"quantitative","scale":{"domain":[-0.3,0.7],"nice":false,"zero":false},"axis":null},"text":{"field":"txt"},"color":{"field":"s","type":"nominal","legend":null}}},
  {"data":{"values":[{}]},"mark":{"type":"text","text":"F","align":"left","baseline":"alphabetic","fontSize":18,"fontWeight":"bold","color":"black"},"encoding":{"x":{"datum":-42,"type":"quantitative","scale":{"domain":[0,800],"nice":false,"zero":false},"axis":{"orient":"top","values":[0,100,200,300,400,500,600,700,800],"labels":false,"title":null}},"y":{"datum":0.728,"type":"quantitative","scale":{"domain":[-0.3,0.7],"nice":false,"zero":false},"axis":{"orient":"right","values":[-0.2,0,0.2,0.4,0.6],"labels":false,"title":null}}}}
 ]},
 {"width":340,"height":73,"resolve":{"axis":{"x":"independent","y":"independent"}},"layer":[
  {"data":{"values":[{}]},"mark":{"type":"rule","color":"#8c8c8c","strokeWidth":0.8},"encoding":{"y":{"datum":0,"type":"quantitative","scale":{"domain":[-0.3,0.7],"nice":false,"zero":false},"axis":{"values":[-0.2,0,0.2,0.4,0.6],"labelExpr":"datum.value===0?'0':(abs(datum.value-0.4)<0.001?'0.4':'')","title":"Activity (z)","labelOverlap":false}}}},
  {"data":{"name":"lines"},"transform":[{"filter":"datum.p==='G'"}],"mark":{"type":"line","strokeWidth":2,"interpolate":"monotone"},"encoding":{"x":{"field":"t","type":"quantitative","scale":{"domain":[0,800],"nice":false,"zero":false},"axis":{"values":[0,100,200,300,400,500,600,700,800],"title":"Time (ms)","labelOverlap":false}},"y":{"field":"v","type":"quantitative","scale":{"domain":[-0.3,0.7],"nice":false,"zero":false},"axis":null},"color":{"field":"s","type":"nominal","legend":null}}},
  {"data":{"values":[{}]},"mark":{"type":"rule","color":"black","strokeWidth":2,"strokeDash":[5,3]},"encoding":{"x":{"datum":350,"type":"quantitative","scale":{"domain":[0,800],"nice":false,"zero":false},"axis":null}}},
  {"data":{"name":"labels"},"transform":[{"filter":"datum.p==='G'"}],"mark":{"type":"text","align":"center","baseline":"middle","fontSize":12,"fontWeight":"normal"},"encoding":{"x":{"field":"t","type":"quantitative","scale":{"domain":[0,800],"nice":false,"zero":false},"axis":null},"y":{"field":"v","type":"quantitative","scale":{"domain":[-0.3,0.7],"nice":false,"zero":false},"axis":null},"text":{"field":"txt"},"color":{"field":"s","type":"nominal","legend":null}}},
  {"data":{"values":[{}]},"mark":{"type":"text","text":"G","align":"left","baseline":"alphabetic","fontSize":18,"fontWeight":"bold","color":"black"},"encoding":{"x":{"datum":-75,"type":"quantitative","scale":{"domain":[0,800],"nice":false,"zero":false},"axis":{"orient":"top","values":[0,100,200,300,400,500,600,700,800],"labels":false,"title":null}},"y":{"datum":0.636,"type":"quantitative","scale":{"domain":[-0.3,0.7],"nice":false,"zero":false},"axis":{"orient":"right","values":[-0.2,0,0.2,0.4,0.6],"labels":false,"title":null}}}}
 ]},
 {"width":342,"height":73,"resolve":{"axis":{"x":"independent","y":"independent"}},"layer":[
  {"data":{"values":[{}]},"mark":{"type":"rule","color":"#8c8c8c","strokeWidth":0.8},"encoding":{"y":{"datum":0,"type":"quantitative","scale":{"domain":[-0.3,0.7],"nice":false,"zero":false},"axis":{"values":[-0.2,0,0.2,0.4,0.6],"labelExpr":"datum.value===0?'0':(abs(datum.value-0.4)<0.001?'0.4':'')","title":null,"labelOverlap":false}}}},
  {"data":{"name":"lines"},"transform":[{"filter":"datum.p==='H'"}],"mark":{"type":"line","strokeWidth":2,"interpolate":"monotone"},"encoding":{"x":{"field":"t","type":"quantitative","scale":{"domain":[0,800],"nice":false,"zero":false},"axis":{"values":[0,100,200,300,400,500,600,700,800],"title":"Times (ms)","labelOverlap":false}},"y":{"field":"v","type":"quantitative","scale":{"domain":[-0.3,0.7],"nice":false,"zero":false},"axis":null},"color":{"field":"s","type":"nominal","legend":null}}},
  {"data":{"values":[{}]},"mark":{"type":"rule","color":"black","strokeWidth":2},"encoding":{"x":{"datum":350,"type":"quantitative","scale":{"domain":[0,800],"nice":false,"zero":false},"axis":null}}},
  {"data":{"name":"labels"},"transform":[{"filter":"datum.p==='H'"}],"mark":{"type":"text","align":"center","baseline":"middle","fontSize":12,"fontWeight":"normal"},"encoding":{"x":{"field":"t","type":"quantitative","scale":{"domain":[0,800],"nice":false,"zero":false},"axis":null},"y":{"field":"v","type":"quantitative","scale":{"domain":[-0.3,0.7],"nice":false,"zero":false},"axis":null},"text":{"field":"txt"},"color":{"field":"s","type":"nominal","legend":null}}},
  {"data":{"values":[{}]},"mark":{"type":"text","text":"H","align":"left","baseline":"alphabetic","fontSize":18,"fontWeight":"bold","color":"black"},"encoding":{"x":{"datum":-42,"type":"quantitative","scale":{"domain":[0,800],"nice":false,"zero":false},"axis":{"orient":"top","values":[0,100,200,300,400,500,600,700,800],"labels":false,"title":null}},"y":{"datum":0.71,"type":"quantitative","scale":{"domain":[-0.3,0.7],"nice":false,"zero":false},"axis":{"orient":"right","values":[-0.2,0,0.2,0.4,0.6],"labels":false,"title":null}}}}
 ]}
]
}
